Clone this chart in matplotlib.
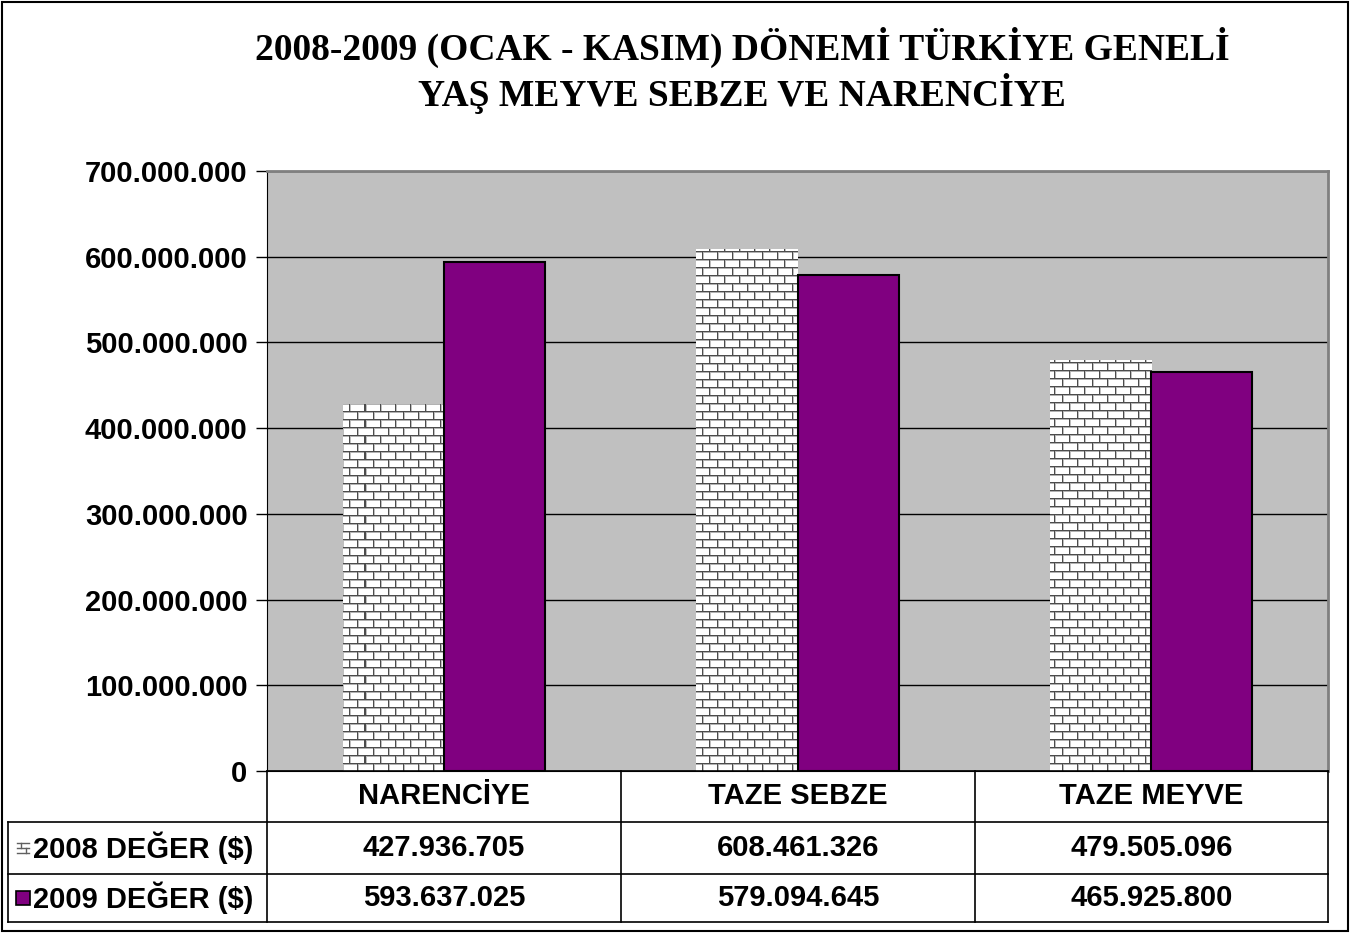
import matplotlib.pyplot as plt
import numpy as np
from matplotlib.patches import Rectangle
from matplotlib.lines import Line2D

categories = ["NARENCİYE", "TAZE SEBZE", "TAZE MEYVE"]
series_names = ["2008 DEĞER ($)", "2009 DEĞER ($)"]
values_2008 = [427936705, 608461326, 479505096]
values_2009 = [593637025, 579094645, 465925800]
yticks = [0, 100000000, 200000000, 300000000, 400000000, 500000000, 600000000, 700000000]

W, H = 1352, 933
fig = plt.figure(figsize=(W / 100, H / 100), dpi=100)


def fx(px):
    return px / W


def fy(py):
    return 1 - py / H


def fmt(v):
    return "{:,}".format(v).replace(",", ".")


ax = fig.add_axes([fx(267), fy(771), fx(1328) - fx(267), fy(171) - fy(771)])
ax.set_facecolor("#C0C0C0")

x = np.arange(len(categories))
bw = 0.286
bars08 = ax.bar(x - bw / 2, values_2008, bw, color="white", linewidth=0, zorder=3)
bars09 = ax.bar(x + bw / 2, values_2009, bw, color="#800080", edgecolor="black", linewidth=1.5, zorder=4)

# brick texture for 2008 bars
th, tw = 600, 1061
tex = np.ones((th, tw, 3))
for r in range(0, th, 8):
    tex[r, :] = 0.3
    if r + 1 < th:
        tex[r + 1, :] = 0.7
for r0 in range(0, th, 8):
    off = 0 if (r0 // 8) % 2 == 0 else 7
    for c in range(off, tw, 15):
        tex[r0:r0 + 8, c] = 0.3
        if c + 1 < tw:
            tex[r0 + 2:r0 + 8, c + 1] = 0.75
for b in bars08:
    im = ax.imshow(tex, extent=(-0.5, 2.5, 0, 700000000), aspect="auto", zorder=3.5,
                   interpolation="nearest")
    im.set_clip_path(b)
ax.set_xlim(-0.5, 2.5)
ax.set_ylim(0, 700000000)

ax.set_yticks(yticks)
ax.set_yticklabels([fmt(v) for v in yticks], fontsize=21, fontweight="bold", family="Liberation Sans")
ax.set_xticks([])
ax.tick_params(axis="y", length=8, width=1, pad=6)
ax.grid(axis="y", color="black", linewidth=1, zorder=1)
ax.set_axisbelow(True)
for s in ["top", "right"]:
    ax.spines[s].set_color("#808080")
    ax.spines[s].set_linewidth(2)
ax.spines["left"].set_color("black")
ax.spines["bottom"].set_color("black")

# title
fig.text(fx(742), fy(47), "2008-2009 (OCAK - KASIM) DÖNEMİ TÜRKİYE GENELİ", ha="center", va="center",
         fontsize=27, fontweight="bold", family="Liberation Serif")
fig.text(fx(742), fy(94), "YAŞ MEYVE SEBZE VE NARENCİYE", ha="center", va="center",
         fontsize=27, fontweight="bold", family="Liberation Serif")

# data table
col_x = [267, 621, 975, 1328]
row_y = [771, 822, 874, 922]
left_x = 8


def hline(x0, x1, y):
    fig.add_artist(Line2D([fx(x0), fx(x1)], [fy(y), fy(y)], color="black", linewidth=1.2))


def vline(xp, y0, y1):
    fig.add_artist(Line2D([fx(xp), fx(xp)], [fy(y0), fy(y1)], color="black", linewidth=1.2))


hline(267, 1328, row_y[0])
hline(left_x, 1328, row_y[1])
hline(left_x, 1328, row_y[2])
hline(left_x, 1328, row_y[3])
for cx in col_x:
    vline(cx, row_y[0], row_y[3])
vline(left_x, row_y[1], row_y[3])

for i, c in enumerate(categories):
    xc = (col_x[i] + col_x[i + 1]) / 2
    fig.text(fx(xc), fy((row_y[0] + row_y[1]) / 2), c, ha="center", va="center",
             fontsize=21, fontweight="bold", family="Liberation Sans")
    fig.text(fx(xc), fy((row_y[1] + row_y[2]) / 2), fmt(values_2008[i]), ha="center", va="center",
             fontsize=21, fontweight="bold", family="Liberation Sans")
    fig.text(fx(xc), fy((row_y[2] + row_y[3]) / 2), fmt(values_2009[i]), ha="center", va="center",
             fontsize=21, fontweight="bold", family="Liberation Sans")

for k, name in enumerate(series_names):
    yc = (row_y[1 + k] + row_y[2 + k]) / 2
    fig.text(fx(33), fy(yc), name, ha="left", va="center",
             fontsize=21, fontweight="bold", family="Liberation Sans")

# legend keys
yc = (row_y[1] + row_y[2]) / 2
for dy in [-5, 0, 5]:
    fig.add_artist(Line2D([fx(17), fx(29)], [fy(yc + dy), fy(yc + dy)], color="#606060", linewidth=1))
fig.add_artist(Line2D([fx(21), fx(21)], [fy(yc - 5), fy(yc)], color="#606060", linewidth=1))
fig.add_artist(Line2D([fx(26), fx(26)], [fy(yc), fy(yc + 5)], color="#606060", linewidth=1))
yc = (row_y[2] + row_y[3]) / 2
fig.add_artist(Rectangle((fx(16), fy(yc + 7)), fx(14), fy(0) - fy(14), facecolor="#800080",
                         edgecolor="black", linewidth=1.2))

# outer frame
fig.add_artist(Rectangle((fx(2), fy(931)), fx(1346), fy(2) - fy(931), fill=False,
                         edgecolor="black", linewidth=1.5))

fig.savefig("out.png", dpi=100)
